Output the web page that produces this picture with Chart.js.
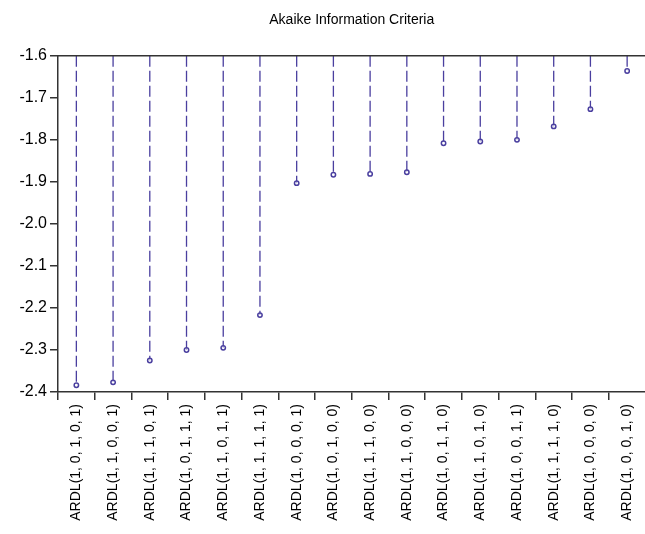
<!DOCTYPE html>
<html>
<head>
<meta charset="utf-8">
<script src="https://cdn.jsdelivr.net/npm/chart.js@4/dist/chart.umd.min.js"></script>
<style>
  html, body { margin: 0; padding: 0; background: #fff; overflow: hidden; }
  #frame { width: 645px; height: 534px; overflow: hidden; }
  canvas { display: block; }
</style>
</head>
<body>
<div id="frame"><canvas id="aic" width="651" height="534"></canvas></div>
<script>
// ARDL model specifications, ordered from lowest to highest criterion value
const models = [
  'ARDL(1, 0, 1, 0, 1)', 'ARDL(1, 1, 0, 0, 1)', 'ARDL(1, 1, 1, 0, 1)', 'ARDL(1, 0, 1, 1, 1)',
  'ARDL(1, 1, 0, 1, 1)', 'ARDL(1, 1, 1, 1, 1)', 'ARDL(1, 0, 0, 0, 1)', 'ARDL(1, 0, 1, 0, 0)',
  'ARDL(1, 1, 1, 0, 0)', 'ARDL(1, 1, 0, 0, 0)', 'ARDL(1, 0, 1, 1, 0)', 'ARDL(1, 1, 0, 1, 0)',
  'ARDL(1, 0, 0, 1, 1)', 'ARDL(1, 1, 1, 1, 0)', 'ARDL(1, 0, 0, 0, 0)', 'ARDL(1, 0, 0, 1, 0)'
];

// Akaike information criterion for each model
const aicValues = [
  -2.384, -2.377, -2.325, -2.300, -2.295, -2.217, -1.903, -1.883,
  -1.881, -1.877, -1.808, -1.804, -1.800, -1.768, -1.727, -1.636
];

// Value axis ticks
const yTicks = [-1.6, -1.7, -1.8, -1.9, -2.0, -2.1, -2.2, -2.3, -2.4];

const chartTitle = 'Akaike Information Criteria';

const markColor = '#4a3f9f';
const axisColor = '#333333';
const fontFamily = '"Liberation Sans", Arial, Helvetica, sans-serif';

// Dashed drop lines from the top of the plot to each point, plus the top frame line
const dropLines = {
  id: 'dropLines',
  beforeDatasetsDraw(chart) {
    const { ctx, chartArea, scales } = chart;
    const yTop = scales.y.getPixelForValue(scales.y.max);
    const meta = chart.getDatasetMeta(0);
    ctx.save();
    ctx.strokeStyle = markColor;
    ctx.lineWidth = 1.3;
    ctx.setLineDash([11, 4]);
    meta.data.forEach(pt => {
      ctx.beginPath();
      ctx.moveTo(pt.x, yTop);
      ctx.lineTo(pt.x, pt.y);
      ctx.stroke();
    });
    ctx.setLineDash([]);
    ctx.strokeStyle = axisColor;
    ctx.lineWidth = 1.5;
    ctx.beginPath();
    ctx.moveTo(chartArea.left, chartArea.top);
    ctx.lineTo(chartArea.right, chartArea.top);
    ctx.stroke();
    ctx.restore();
  }
};

new Chart(document.getElementById('aic'), {
  type: 'line',
  data: {
    labels: models,
    datasets: [{
      data: aicValues,
      showLine: false,
      pointRadius: 2.2,
      pointBorderWidth: 1.5,
      pointBorderColor: markColor,
      pointBackgroundColor: 'rgba(255,255,255,0.6)'
    }]
  },
  options: {
    responsive: false,
    devicePixelRatio: 1,
    animation: false,
    layout: { padding: 0 },
    plugins: {
      legend: { display: false },
      tooltip: { enabled: false },
      title: {
        display: true,
        text: chartTitle,
        fullSize: false,
        color: '#000',
        font: { family: fontFamily, size: 14, weight: 'normal' },
        padding: { top: 12, bottom: 27 }
      }
    },
    scales: {
      x: {
        type: 'category',
        offset: true,
        grid: { offset: true, drawOnChartArea: false, drawTicks: true, tickLength: 8, color: axisColor, lineWidth: 1.5 },
        border: { display: true, color: axisColor, width: 1.5 },
        ticks: {
          autoSkip: false,
          minRotation: 90,
          maxRotation: 90,
          padding: 4,
          color: '#000',
          font: { family: fontFamily, size: 14 }
        },
        afterFit(scale) {
          scale.height = 142;
          scale.paddingLeft = 0;
          scale.paddingRight = 0;
        }
      },
      y: {
        min: -2.4,
        max: -1.6,
        afterBuildTicks(scale) { scale.ticks = yTicks.map(v => ({ value: v })); },
        grid: { drawOnChartArea: false, drawTicks: true, tickLength: 8, color: axisColor, lineWidth: 1.5 },
        border: { display: true, color: axisColor, width: 1.5 },
        ticks: {
          padding: 3,
          color: '#000',
          font: { family: fontFamily, size: 16 },
          callback: v => Number(v).toFixed(1)
        },
        afterFit(scale) { scale.width = 58; }
      }
    }
  },
  plugins: [dropLines]
});
</script>
</body>
</html>
